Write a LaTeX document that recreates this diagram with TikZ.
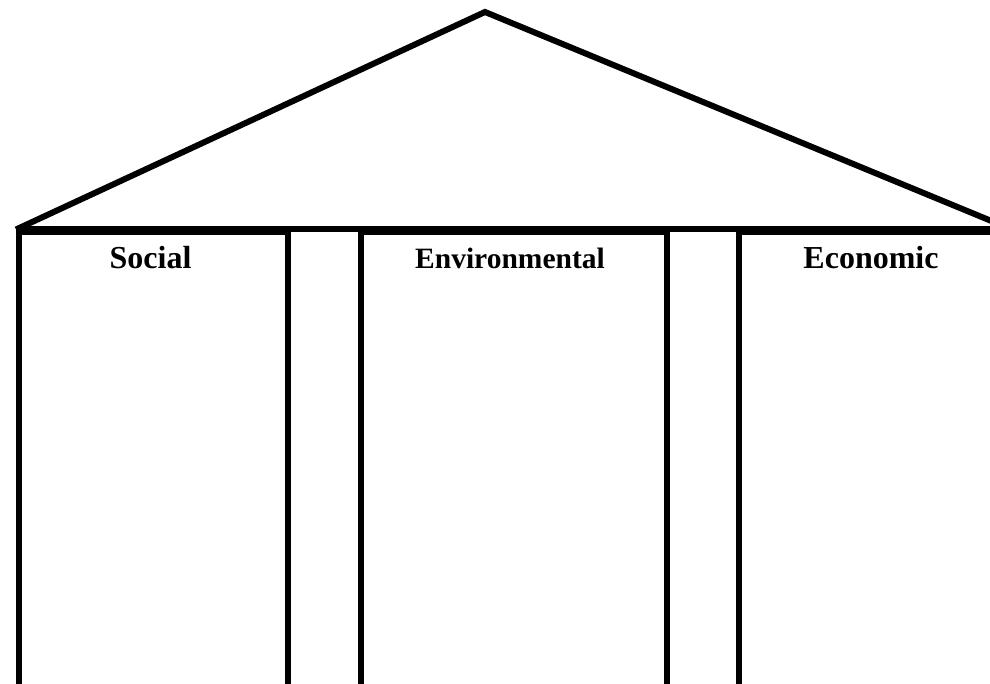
\documentclass[tikz,border=0pt]{standalone}
\usepackage{fontspec}
\setmainfont{Liberation Serif}
\tikzstyle{pillar}=[draw, line width=6pt, anchor=north west, inner sep=0pt, minimum height=460pt]
\tikzstyle{roof}=[line width=6pt, line join=miter]
\tikzstyle{title}=[anchor=base, inner sep=0pt, font=\bfseries\fontsize{32}{36}\selectfont]
\usetikzlibrary{positioning}

\begin{document}
\begin{tikzpicture}[x=1pt,y=1pt]
\useasboundingbox (0,0) rectangle (990,684);
\node (p1) [pillar, minimum width=269pt] at (16,454.5) {};
\node (p2) [pillar, minimum width=306pt] at (358,454.5) {};
\node (p3) [pillar, minimum width=270pt] at (736,454.5) {};
\coordinate (apex) at (485,672);
\draw[roof] (p1.north west) -- (apex) -- (p3.north east);
\draw[roof] (p1.north west) -- (p3.north east);
\node (social) [title] at (150.5,415) {Social};
\node (environ) [title, font=\bfseries\fontsize{29.5}{34}\selectfont] at (510,415) {Environmental};
\node (economic) [title] at (871,415) {Economic};
\end{tikzpicture}
\end{document}
